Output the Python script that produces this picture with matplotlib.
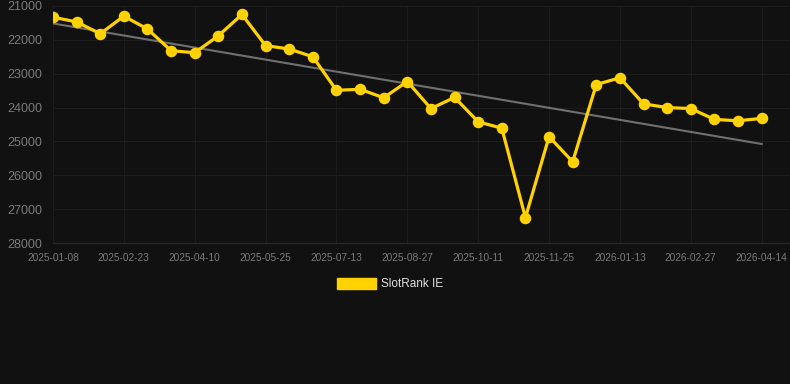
import numpy as np
import matplotlib.pyplot as plt
from matplotlib.patches import Patch

plt.rcParams['font.family'] = ['Liberation Sans', 'DejaVu Sans']

# categorical dates (one point roughly every 15 days)
dates = ['2025-01-08', '2025-01-23', '2025-02-07', '2025-02-23', '2025-03-10',
         '2025-03-25', '2025-04-10', '2025-04-25', '2025-05-10', '2025-05-25',
         '2025-06-11', '2025-06-27', '2025-07-13', '2025-07-28', '2025-08-12',
         '2025-08-27', '2025-09-11', '2025-09-26', '2025-10-11', '2025-10-26',
         '2025-11-10', '2025-11-25', '2025-12-11', '2025-12-28', '2026-01-13',
         '2026-01-28', '2026-02-12', '2026-02-27', '2026-03-14', '2026-03-29',
         '2026-04-14']
rank = [21330, 21470, 21820, 21300, 21680, 22320, 22380, 21880, 21250, 22170,
        22270, 22500, 23490, 23460, 23710, 23230, 24030, 23700, 24420, 24610,
        27250, 24860, 25600, 23320, 23120, 23890, 24000, 24030, 24350, 24390,
        24320]
yticks = [21000, 22000, 23000, 24000, 25000, 26000, 27000, 28000]

bg = '#111111'
yellow = '#FFD200'

fig = plt.figure(figsize=(7.9, 3.84), dpi=100, facecolor=bg)
ax = fig.add_axes([53 / 790, 1 - 243 / 384, 737 / 790, 237 / 384])
ax.set_facecolor(bg)

x = np.arange(len(dates))
# linear trend
coef = np.polyfit(x, rank, 1)
ax.plot(x, np.polyval(coef, x), color='#707070', lw=1.5, zorder=2)
ax.plot(x, rank, color=yellow, lw=2.3, marker='o', ms=7.3, zorder=3)

ax.set_xlim(0, 31.2)
ax.set_ylim(28000, 21000)
ax.set_yticks(yticks)
ax.set_xticks(x[::3])
ax.set_xticklabels(dates[::3])
ax.grid(True, color='#1c1c1c', lw=0.8)
ax.set_axisbelow(True)
for s in ['top', 'right', 'left']:
    ax.spines[s].set_visible(False)
ax.spines['bottom'].set_color('#2a2a2a')
ax.tick_params(axis='both', length=0, colors='#7a7a7a')
ax.tick_params(axis='x', labelsize=7.3, pad=7)
ax.tick_params(axis='y', labelsize=9, pad=8)

fig.legend(handles=[Patch(color=yellow, label='SlotRank IE')],
           loc='center', bbox_to_anchor=(390 / 790, 1 - 284 / 384),
           frameon=False, fontsize=8.5, labelcolor='#e0e0e0',
           handlelength=3.3, handleheight=1.1, handletextpad=0.45)

fig.savefig('out.png', dpi=100, facecolor=bg)
